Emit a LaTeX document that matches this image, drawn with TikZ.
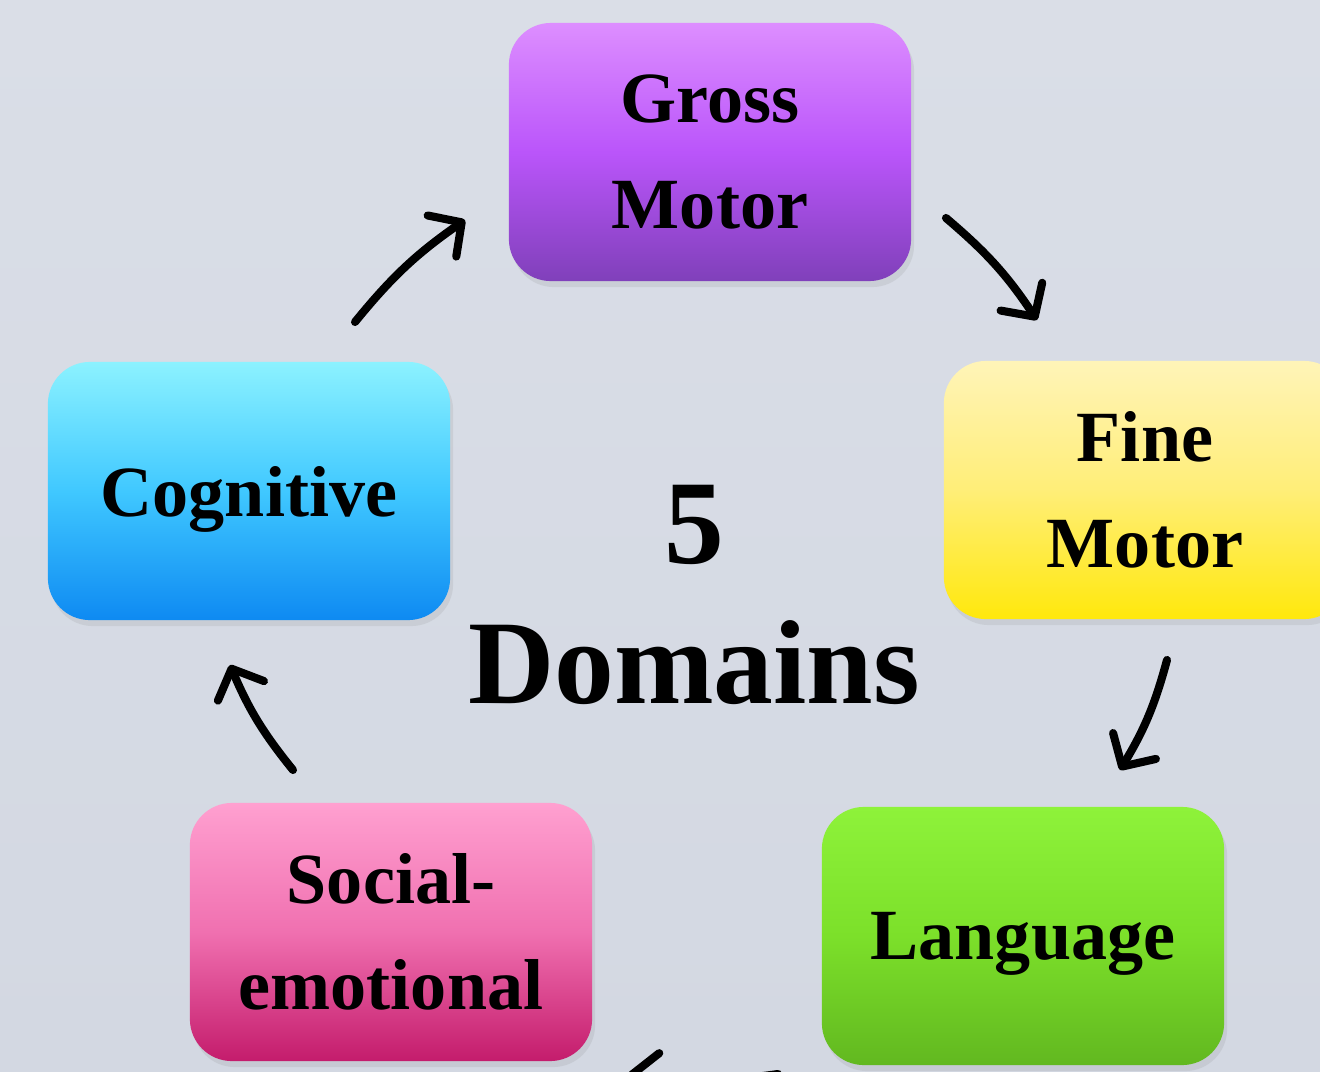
\documentclass[tikz,border=0pt]{standalone}
\usepackage{fontspec}
\setmainfont{Liberation Serif}
\usepackage{xcolor}
\usetikzlibrary{arrows.meta,shadows}

\definecolor{bgTop}{HTML}{DADEE7}
\definecolor{bgBot}{HTML}{D3D8E2}
\definecolor{gmTop}{HTML}{DD8EFF}
\definecolor{gmMid}{HTML}{BA55FA}
\definecolor{gmBot}{HTML}{8040BA}
\definecolor{fmTop}{HTML}{FFF4B8}
\definecolor{fmMid}{HTML}{FFEE78}
\definecolor{fmBot}{HTML}{FFE80C}
\definecolor{cgTop}{HTML}{8CF2FF}
\definecolor{cgMid}{HTML}{40C8FF}
\definecolor{cgBot}{HTML}{0E8AF2}
\definecolor{lgTop}{HTML}{8EF23A}
\definecolor{lgMid}{HTML}{7CE02A}
\definecolor{lgBot}{HTML}{62B820}
\definecolor{seTop}{HTML}{FFA0D0}
\definecolor{seMid}{HTML}{F070B0}
\definecolor{seBot}{HTML}{C41C6C}

\tikzset{
  domainbox/.style={rectangle, rounded corners=0.42cm, minimum width=4.02cm,
    minimum height=2.58cm, inner sep=0pt, align=center,
    font=\fontsize{20.5}{30}\selectfont\bfseries,
    drop shadow={opacity=0.15, shadow xshift=0.3mm, shadow yshift=-0.6mm}},
  oneline/.style={text depth=0pt},
  cycarrow/.style={line width=2.3pt, line cap=round, bend left=8,
    -{Straight Barb[length=2.4mm,width=5mm,round]}}
}

\begin{document}
\begin{tikzpicture}[x=0.01cm,y=-0.01cm]
\useasboundingbox (0,0) rectangle (1320,1072);
\clip (0,0) rectangle (1320,1072);
\fill[top color=bgTop, bottom color=bgBot] (0,0) rectangle (1320,1072);

% the five boxes
\node[domainbox, top color=gmTop, bottom color=gmBot, middle color=gmMid] (gross) at (710,152) {Gross\\Motor};
\node[domainbox, top color=fmTop, bottom color=fmBot, middle color=fmMid] (fine) at (1145,490) {Fine\\Motor};
\node[domainbox, oneline, top color=lgTop, bottom color=lgBot, middle color=lgMid] (lang) at (1023,936) {Language};
\node[domainbox, top color=seTop, bottom color=seBot, middle color=seMid] (social) at (391,932) {Social-\\emotional};
\node[domainbox, oneline, top color=cgTop, bottom color=cgBot, middle color=cgMid] (cog) at (249,491) {Cognitive};

% centre text
\node[align=center, font=\fontsize{34}{40}\selectfont\bfseries] (five) at (694,595) {5\\Domains};

% arrow ends
\coordinate (a1s) at (355,322);  \coordinate (a1e) at (465,220);
\coordinate (a2s) at (946,218);  \coordinate (a2e) at (1037,320);
\coordinate (a3s) at (1167,660); \coordinate (a3e) at (1120,770);
\coordinate (a4s) at (778,1074); \coordinate (a4e) at (628,1074);
\coordinate (a5s) at (293,770);  \coordinate (a5e) at (230,665);

\draw[cycarrow] (a1s) to (a1e);
\draw[cycarrow] (a2s) to (a2e);
\draw[cycarrow] (a3s) to (a3e);
\draw[cycarrow] (a4s) to (a4e);
\draw[cycarrow] (a5s) to (a5e);
\end{tikzpicture}
\end{document}
